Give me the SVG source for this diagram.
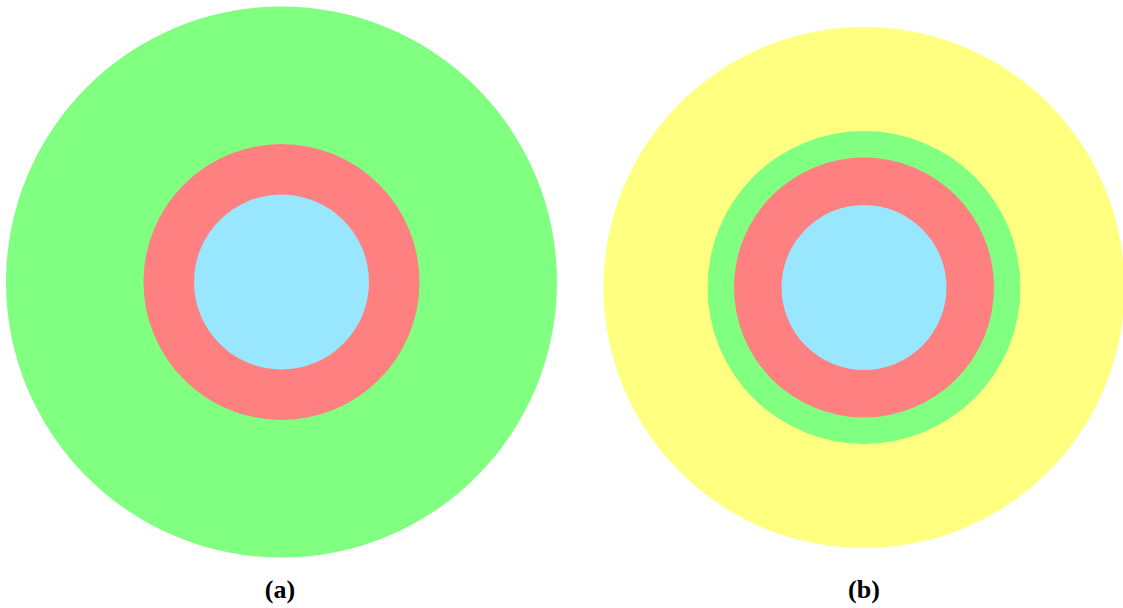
<svg xmlns="http://www.w3.org/2000/svg" width="1123" height="608" viewBox="0 0 1123 608">
<style>
.g{fill:#80FF80}.r{fill:#FF8080}.b{fill:#99E6FF}.y{fill:#FFFF80}
.lbl{font-family:"Liberation Serif","Times New Roman",serif;font-weight:bold;font-size:26px;text-anchor:middle;fill:#000}
</style>
<rect width="1123" height="608" fill="#fff"/>
<g id="diagram-a">
<circle class="g" cx="281.5" cy="282" r="275.5"/>
<circle class="r" cx="281.5" cy="282" r="138"/>
<circle class="b" cx="281.5" cy="282" r="87.5"/>
<text class="lbl" x="280" y="598">(a)</text>
</g>
<g id="diagram-b">
<circle class="y" cx="864" cy="287.5" r="260.5"/>
<circle class="g" cx="864" cy="287.5" r="156.5"/>
<circle class="r" cx="864" cy="287.5" r="130"/>
<circle class="b" cx="864" cy="287.5" r="82.5"/>
<text class="lbl" x="864" y="598">(b)</text>
</g>
</svg>
